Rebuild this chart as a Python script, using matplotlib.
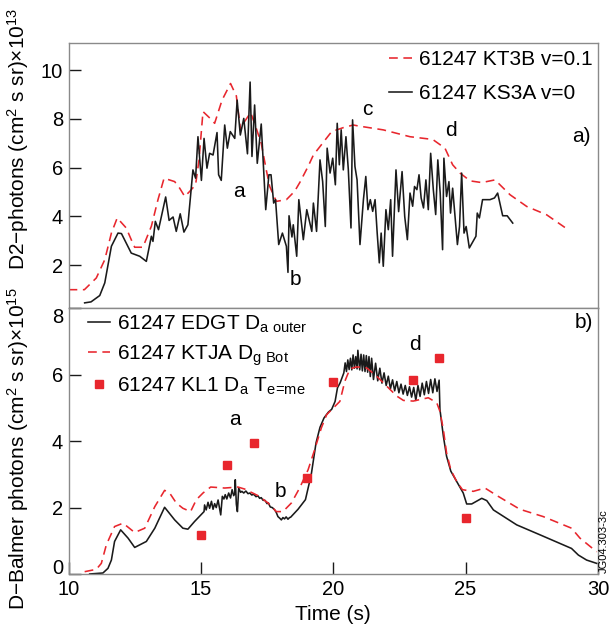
import matplotlib
matplotlib.use('Agg')
import matplotlib.pyplot as plt

plt.rcParams['font.family'] = ['Liberation Sans', 'DejaVu Sans']
plt.rcParams['mathtext.fontset'] = 'custom'
plt.rcParams['mathtext.rm'] = 'Liberation Sans'
plt.rcParams['mathtext.it'] = 'Liberation Sans:italic'
plt.rcParams['font.size'] = 15

# gornji panel a) - D2 fotoni
t_kt3b = [10.0, 10.6, 11.05, 11.37, 11.62, 11.84, 12.18, 12.37, 12.5, 12.81, 13.13, 13.38, 13.61, 14.01, 14.2,
          14.39, 14.58, 14.8, 14.93, 15.08, 15.39, 15.52, 15.8, 16.12, 16.34, 16.5, 16.65, 16.88, 17.09, 17.28,
          17.47, 17.6, 17.85, 18.23, 18.54, 18.74, 19.05, 19.25, 19.94, 20.4, 20.76, 20.95, 21.89, 22.9, 23.59,
          23.78, 24.22, 24.51, 24.79, 25.17, 25.61, 26.11, 26.68, 27.31, 28.06, 28.75]
kt3b = [1.0, 1.0, 1.48, 2.23, 3.32, 3.94, 3.53, 3.05, 2.74, 2.74, 3.6, 4.69, 5.57, 5.43, 5.16,
        4.82, 5.03, 5.3, 6.32, 8.30, 7.98, 7.82, 8.77, 9.45, 8.94, 7.55, 7.89, 8.26, 7.62, 7.0,
        5.91, 5.23, 4.62, 4.69, 5.03, 5.4, 6.05, 6.52, 7.48, 7.65, 7.75, 7.71, 7.55, 7.27, 7.18,
        7.14, 6.8, 6.12, 5.78, 5.46, 5.39, 5.5, 4.89, 4.41, 4.07, 3.55]

t_ks3a = [10.61, 10.85, 11.18, 11.37, 11.62, 11.87, 12.0, 12.37, 12.69, 12.94, 13.13, 13.19, 13.28, 13.4, 13.67,
          13.8, 13.95, 14.07, 14.22, 14.36, 14.51, 14.7, 14.8, 14.89, 15.02, 15.12, 15.23, 15.33, 15.46, 15.61,
          15.67, 15.77, 15.9, 16.0, 16.11, 16.28, 16.37, 16.49, 16.62, 16.76, 16.86, 16.93, 17.03, 17.13, 17.28,
          17.45, 17.57, 17.65, 17.75, 17.82, 17.94, 18.08, 18.23, 18.29, 18.33, 18.44, 18.49, 18.62, 18.7, 18.87,
          19.0, 19.19, 19.25, 19.37, 19.5, 19.6, 19.7, 19.77, 19.88, 19.98, 20.08, 20.15, 20.23, 20.3, 20.38,
          20.48, 20.57, 20.67, 20.73, 20.82, 20.9, 21.01, 21.14, 21.23, 21.31, 21.4, 21.49, 21.58, 21.66, 21.74,
          21.81, 21.89, 21.99, 22.08, 22.17, 22.24, 22.37, 22.47, 22.6, 22.7, 22.8, 22.9, 23.0, 23.07, 23.16,
          23.24, 23.32, 23.41, 23.5, 23.59, 23.68, 23.78, 23.87, 23.95, 24.04, 24.13, 24.18, 24.28, 24.37, 24.43,
          24.51, 24.6, 24.69, 24.77, 24.85, 24.94, 25.02, 25.14, 25.39, 25.44, 25.52, 25.64, 25.92, 26.09, 26.21,
          26.4, 26.57, 26.78]
ks3a = [0.46, 0.5, 0.76, 1.28, 2.78, 3.32, 3.3, 2.5, 2.37, 2.16, 3.19, 2.98, 3.8, 3.46, 4.8,
        3.84, 3.98, 3.39, 4.11, 3.36, 3.66, 5.91, 5.57, 7.27, 5.48, 7.2, 5.98, 6.59, 6.52, 7.44,
        5.71, 5.48, 7.75, 6.8, 7.48, 7.2, 8.77, 7.34, 8.02, 6.57, 9.51, 6.46, 8.57, 6.18, 7.79,
        4.28, 5.71, 5.71, 4.55, 4.69, 2.85, 3.32, 2.78, 1.71, 4.03, 3.16, 3.66, 2.37, 4.69, 3.05,
        4.28, 3.39, 4.55, 3.39, 6.32, 5.43, 3.59, 6.8, 5.78, 6.39, 5.3, 7.82, 6.12, 7.55, 5.91,
        7.27, 5.91, 3.53, 7.96, 6.05, 5.5, 2.85, 4.69, 5.64, 4.28, 4.69, 4.21, 4.69, 3.32, 2.1,
        3.32, 1.96, 4.28, 3.46, 4.69, 2.37, 5.91, 4.2, 5.84, 4.0, 3.05, 4.96, 4.42, 5.23, 5.1,
        5.71, 4.76, 4.35, 5.5, 4.28, 6.59, 5.1, 4.08, 6.32, 4.96, 2.64, 6.39, 4.82, 5.43, 4.14,
        5.16, 4.0, 2.85, 3.59, 5.78, 3.32, 3.59, 2.71, 3.19, 4.14, 3.94, 4.69, 4.69, 4.76, 4.96,
        4.03, 4.03, 3.73]

# donji panel b) - D-Balmer fotoni
t_edgt = [10.8, 11.3, 11.49, 11.62, 11.74, 11.97, 12.25, 12.5, 12.94, 13.26, 13.63, 14.01, 14.32, 14.51, 14.76,
          15.12, 15.14, 15.2, 15.27, 15.33, 15.4, 15.46, 15.52, 15.58, 15.65, 15.75, 15.81, 15.87, 15.92, 15.98,
          16.05, 16.12, 16.18, 16.24, 16.28, 16.3, 16.34, 16.38, 16.43, 16.5, 16.55, 16.62, 16.7, 16.78, 16.85,
          16.92, 17.0, 17.08, 17.16, 17.22, 17.28, 17.35, 17.42, 17.5, 17.55, 17.62, 17.7, 17.79, 17.85, 17.91,
          17.98, 18.04, 18.1, 18.16, 18.22, 18.29, 18.35, 18.39, 18.67, 18.95, 19.17, 19.35, 19.5, 19.65, 19.82,
          19.94, 20.07, 20.16, 20.26, 20.4, 20.45, 20.5, 20.55, 20.6, 20.65, 20.7, 20.75, 20.8, 20.85,
          20.9, 20.93, 21.0, 21.05, 21.1, 21.15, 21.2, 21.25, 21.3, 21.35, 21.4, 21.45, 21.52, 21.6,
          21.68, 21.76, 21.84, 21.92, 22.0, 22.08, 22.16, 22.24, 22.32, 22.4, 22.48, 22.56, 22.64, 22.72,
          22.8, 22.88, 22.96, 23.04, 23.12, 23.2, 23.28, 23.36, 23.44, 23.52, 23.6, 23.68, 23.76, 23.84,
          23.92, 24.0, 24.03, 24.16, 24.28, 24.44, 24.66, 24.91, 25.04, 25.23, 25.61, 25.8, 26.05, 26.93,
          27.81, 29.0, 29.26, 29.57, 29.95]
edgt = [0.0, 0.03, 0.17, 0.42, 0.98, 1.33, 1.08, 0.8, 0.98, 1.38, 2.01, 1.63, 1.38, 1.35, 1.58,
        1.88, 2.08, 1.93, 2.16, 1.98, 2.19, 1.95, 2.12, 2.0, 2.23, 1.78, 2.34, 2.26, 2.39, 2.26,
        2.44, 2.29, 2.54, 2.36, 2.42, 2.84, 2.1, 1.88, 2.59, 2.46, 2.49, 2.44, 2.5, 2.42, 2.44,
        2.38, 2.4, 2.33, 2.35, 2.28, 2.3, 2.22, 2.22, 2.12, 2.14, 2.02, 2.0, 1.93, 1.85, 1.73,
        1.68, 1.63, 1.7, 1.66, 1.72, 1.65, 1.7, 1.71, 1.95, 2.24, 3.0, 3.95, 4.42, 4.7, 4.88,
        4.96, 5.2, 5.61, 5.76, 6.06, 6.36, 6.1, 6.45, 6.16, 6.5, 6.15, 6.6, 6.2, 6.55,
        6.18, 6.74, 6.15, 6.62, 6.12, 6.6, 6.1, 6.58, 6.08, 6.55, 5.95, 6.5, 5.86, 6.35,
        5.82, 6.2, 5.75, 6.06, 5.68, 5.96, 5.58, 5.85, 5.52, 5.8, 5.46, 5.72, 5.42, 5.68,
        5.38, 5.64, 5.33, 5.62, 5.23, 5.68, 5.35, 5.75, 5.4, 5.8, 5.44, 5.86, 5.46, 5.88,
        5.5, 5.84, 4.96, 4.15, 3.55, 3.1, 2.79, 2.44, 2.11, 2.11, 2.28, 2.21, 1.93, 1.48,
        1.18, 0.77, 0.57, 0.42, 0.32]

t_ktja = [10.61, 11.05, 11.24, 11.43, 11.74, 12.06, 12.25, 12.5, 12.88, 13.26, 13.63, 13.82, 14.07, 14.32, 14.61,
          14.83, 15.08, 15.37, 15.9, 16.4, 16.65, 17.16, 17.54, 17.85, 18.1, 18.42, 18.73, 19.05, 19.3, 19.55,
          19.75, 20.0, 20.25, 20.44, 20.63, 20.88, 21.26, 21.64, 22.02, 22.4, 22.65, 23.02, 23.59, 23.91, 24.03,
          24.16, 24.28, 24.44, 24.66, 24.88, 25.29, 25.73, 26.23, 27.05, 27.93, 29.0, 29.32, 29.95]
ktja = [0.07, 0.14, 0.32, 0.88, 1.43, 1.53, 1.41, 1.25, 1.38, 2.03, 2.52, 2.44, 2.14, 1.98, 1.88,
        2.24, 2.44, 2.62, 2.59, 2.62, 2.56, 2.36, 2.14, 1.88, 1.88, 2.14, 2.59, 3.14, 3.75, 4.4,
        4.8, 5.0, 5.2, 5.81, 6.18, 6.24, 6.21, 5.96, 5.66, 5.36, 5.23, 5.21, 5.31, 5.16, 4.9,
        4.35, 3.65, 3.14, 2.79, 2.54, 2.49, 2.59, 2.34, 1.95, 1.73, 1.38, 1.08, 0.67]

t_kl1 = [15, 16, 17, 19, 20, 23, 24, 25]
kl1 = [1.18, 3.29, 3.95, 2.89, 5.79, 5.83, 6.52, 1.70]

crvena = '#e8262d'

fig = plt.figure(figsize=(6.1, 6.28), dpi=100)
ax1 = fig.add_axes([0.1123, 0.5088, 0.868, 0.4223])
ax2 = fig.add_axes([0.1123, 0.086, 0.868, 0.4228])

# panel a)
ax1.plot(t_kt3b, kt3b, color=crvena, lw=1.15, linestyle=(0, (5.5, 3.5)), label='61247 KT3B v=0.1')
ax1.plot(t_ks3a, ks3a, color='#1a1a1a', lw=1.15, label='61247 KS3A v=0')
ax1.set_xlim(10, 30)
ax1.set_ylim(0.23, 11.1)
ax1.set_yticks([2, 4, 6, 8, 10])
ax1.set_xticks([])
ax1.set_ylabel('D2\u2212photons (cm$^\\mathregular{2}$ s sr)\u00d710$^\\mathregular{13}$', fontsize=15)
ax1.yaxis.set_label_coords(-0.071, 0.64)
ax1.legend(loc='upper right', bbox_to_anchor=(0.99, 0.975), frameon=False, borderpad=0,
           borderaxespad=0, handlelength=1.1, handletextpad=0.35, labelspacing=0.72)
ax1.text(16.44, 5.03, 'a', ha='center', va='center')
ax1.text(18.58, 1.41, 'b', ha='center', va='center')
ax1.text(21.3, 8.39, 'c', ha='center', va='center')
ax1.text(24.43, 7.52, 'd', ha='center', va='center')
ax1.text(29.36, 7.27, 'a)', ha='center', va='center')

# panel b)
ax2.plot(t_edgt, edgt, color='#1a1a1a', lw=1.15, label='61247 EDGT D$_\\mathregular{a\\ outer}$')
ax2.plot(t_ktja, ktja, color=crvena, lw=1.15, linestyle=(0, (5.5, 3.5)), label='61247 KTJA D$_\\mathregular{g\\ Bot}$')
ax2.plot(t_kl1, kl1, 's', color=crvena, markersize=5.5, linestyle='none',
         label='61247 KL1 D$_\\mathregular{a}$ T$_\\mathregular{e\\!=\\!me}$')
ax2.set_xlim(10, 30)
ax2.set_ylim(0, 8)
ax2.set_xticks([10, 15, 20, 25, 30])
ax2.set_yticks([0, 2, 4, 6, 8])
ax2.set_xlabel('Time (s)', labelpad=5)
ax2.set_ylabel('D\u2212Balmer photons (cm$^\\mathregular{2}$ s sr)\u00d710$^\\mathregular{15}$', fontsize=15)
ax2.yaxis.set_label_coords(-0.071, 0.47)
ax2.legend(loc='upper left', bbox_to_anchor=(0.036, 0.98), frameon=False, borderpad=0,
           borderaxespad=0, handlelength=1.1, handletextpad=0.3, labelspacing=0.38, numpoints=1)
ax2.text(16.27, 4.65, 'a', ha='center', va='center')
ax2.text(18.0, 2.49, 'b', ha='center', va='center')
ax2.text(20.86, 7.39, 'c', ha='center', va='center')
ax2.text(23.1, 6.92, 'd', ha='center', va='center')
ax2.text(29.46, 7.57, 'b)', ha='center', va='center')

for ax in (ax1, ax2):
    for s in ax.spines.values():
        s.set_color('#8a8a8a')
        s.set_linewidth(1.0)
    ax.tick_params(direction='in', length=8.5, width=1.0, color='#1a1a1a', labelsize=14.5, pad=4)

# oznaka 8 spustena ispod granice panela kao u originalu
ax2.yaxis.get_major_ticks()[-1].label1.set_verticalalignment('top')
ax2.yaxis.get_major_ticks()[0].label1.set_verticalalignment('baseline')

fig.text(0.99, 1 - 541 / 628, 'JG04.303-3c', rotation=90, fontsize=8, ha='center', va='center')

fig.savefig('out.png', dpi=100)
